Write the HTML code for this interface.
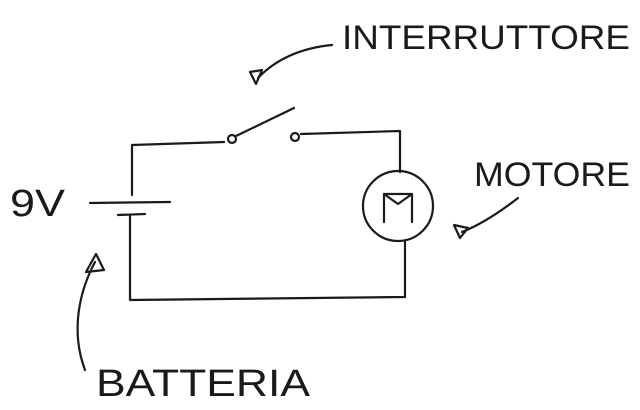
<!DOCTYPE html>
<html><head><meta charset="utf-8"><style>
html,body{margin:0;padding:0;background:#fff;width:640px;height:410px;overflow:hidden}
svg{display:block}
text{font-family:"Liberation Sans",sans-serif;fill:#1a1a1a;font-weight:normal}
</style></head><body>
<svg width="640" height="410" viewBox="0 0 640 410" xmlns="http://www.w3.org/2000/svg">
<g fill="none" stroke="#1a1a1a" stroke-width="2.2" stroke-linecap="round" stroke-linejoin="round">
<path d="M332,45 C300,48 275,60 258,78"/>
<path d="M250,72 L262,70 L256,84 Z"/>
<path d="M132,195 L132,145 L224,142"/>
<circle cx="232" cy="139" r="4"/>
<path d="M236,136 L294,108"/>
<circle cx="295" cy="137" r="4"/>
<path d="M301,134 L400,131 L400,172"/>
<circle cx="398" cy="206" r="35"/>
<path d="M384,222 L384,194 L412,194 L412,222 M384,194 L398,204 L412,194"/>
<path d="M405,241 L405,297 L130,300 L130,216"/>
<path d="M90,203 L170,202"/>
<path d="M118,215 L145,214"/>
<path d="M518,198 C500,212 480,225 462,232"/>
<path d="M454,225 L468,228 L460,238 Z"/>
<path d="M95,262 C80,290 70,330 85,370"/>
<path d="M86,272 L96,254 L104,270 Z"/>
</g>
<text x="342" y="49" font-size="34" textLength="288" lengthAdjust="spacingAndGlyphs">INTERRUTTORE</text>
<text x="474" y="186" font-size="34" textLength="156" lengthAdjust="spacingAndGlyphs">MOTORE</text>
<text x="10" y="216" font-size="38" textLength="55" lengthAdjust="spacingAndGlyphs">9V</text>
<text x="96" y="396" font-size="38" textLength="214" lengthAdjust="spacingAndGlyphs">BATTERIA</text>
</svg>
</body></html>
